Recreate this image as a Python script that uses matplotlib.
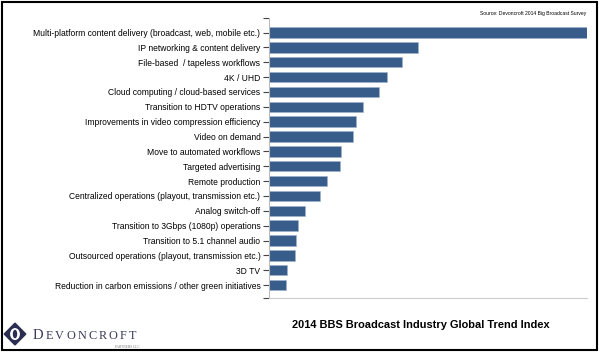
import numpy as np
import matplotlib.pyplot as plt
from matplotlib.patches import Polygon, Ellipse, Rectangle

# trend categories, top to bottom
labels = [
    "Multi-platform content delivery (broadcast, web, mobile etc.)",
    "IP networking & content delivery",
    "File-based  / tapeless workflows",
    "4K / UHD",
    "Cloud computing / cloud-based services",
    "Transition to HDTV operations",
    "Improvements in video compression efficiency",
    "Video on demand",
    "Move to automated workflows",
    "Targeted advertising",
    "Remote production",
    "Centralized operations (playout, transmission etc.)",
    "Analog switch-off",
    "Transition to 3Gbps (1080p) operations",
    "Transition to 5.1 channel audio",
    "Outsourced operations (playout, transmission etc.)",
    "3D TV",
    "Reduction in carbon emissions / other green initiatives",
]
# index values (max = 100)
values = [100, 46.9, 41.8, 37.1, 34.6, 29.6, 27.4, 26.4, 22.6, 22.3,
          18.2, 16.0, 11.3, 9.1, 8.5, 8.2, 5.7, 5.3]

title = "2014 BBS Broadcast Industry Global Trend Index"
source = "Source: Devoncroft 2014 Big Broadcast Survey"

fig = plt.figure(figsize=(6, 3.52), dpi=100)
ax = fig.add_axes([0.448, 0.153, 0.530, 0.796])

y = np.arange(len(labels))
ax.barh(y, values, height=0.7, color="#385d8a", edgecolor="#9fb3cc", linewidth=0.4)
ax.set_ylim(len(labels) - 1 + 0.88, -0.98)
ax.set_xlim(0, max(values))
ax.set_yticks(y)
ax.set_yticklabels(labels, fontsize=6.15, family="Liberation Sans")
ax.tick_params(axis="y", length=4, width=0.8, color="#444444", pad=2)
ax.set_yticks([-0.98, len(labels) - 1 + 0.88], minor=True)
ax.tick_params(axis="y", which="minor", length=4, width=0.8, color="#444444")
ax.set_xticks([])
for s in ["top", "right"]:
    ax.spines[s].set_visible(False)
ax.spines["left"].set_color("#bbbbbb")
ax.spines["bottom"].set_color("#cccccc")

fig.text(0.977, 0.962, source, fontsize=3.6, ha="right", va="center",
         family="Liberation Sans")
fig.text(0.487, 0.077, title, fontsize=7.9, fontweight="bold", ha="left",
         va="center", family="Liberation Sans")

# logo
navy = "#2b2d52"
fig.patches.append(Polygon([(0.007, 0.051), (0.025, 0.082), (0.043, 0.051), (0.025, 0.020)],
                           closed=True, transform=fig.transFigure, color=navy))
fig.patches.append(Ellipse((0.025, 0.051), 0.014, 0.030, transform=fig.transFigure,
                           color="white"))
fig.patches.append(Ellipse((0.025, 0.051), 0.005, 0.020, transform=fig.transFigure,
                           color=navy))

# spaced small-caps wordmark, one letter at a time
renderer = fig.canvas.get_renderer()
xpos = 0.055
for i, ch in enumerate("DEVONCROFT"):
    t = fig.text(xpos, 0.037, ch, fontsize=10.5 if i == 0 else 8.8,
                 family="Liberation Serif", color="#3a3b5c", va="baseline")
    w = t.get_window_extent(renderer).width / fig.bbox.width
    xpos += w + 0.0035
fig.text(0.233, 0.015, "PARTNERS LLC", fontsize=2.5, family="Liberation Serif",
         color="#777777", ha="right", va="center")

# frame round the whole picture
fig.patches.append(Rectangle((0.003, 0.005), 0.992, 0.99, transform=fig.transFigure,
                             fill=False, edgecolor="black", linewidth=1.5))

fig.savefig("out.png", dpi=100)
